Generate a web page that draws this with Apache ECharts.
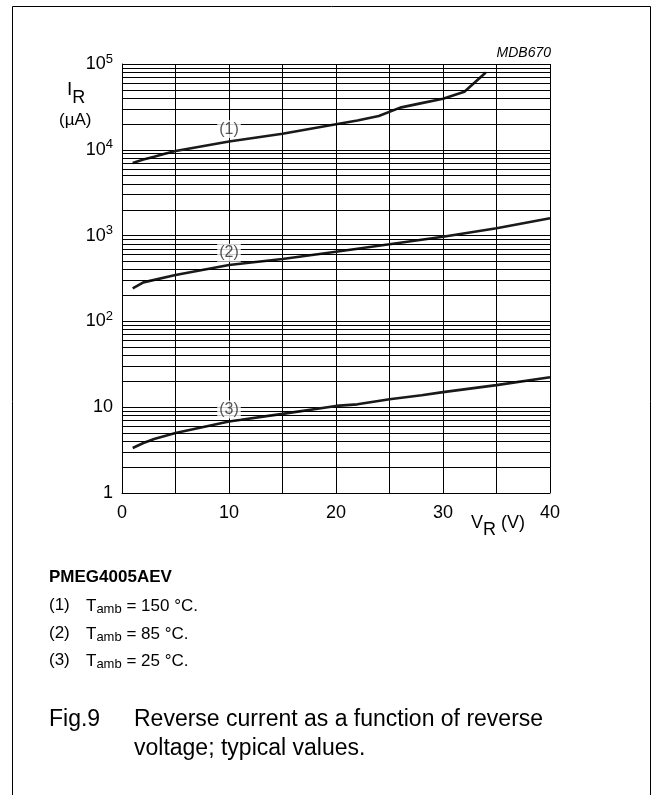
<!DOCTYPE html>
<html>
<head>
<meta charset="utf-8">
<script src="https://cdn.jsdelivr.net/npm/echarts@6/dist/echarts.min.js"></script>
<style>html,body{margin:0;padding:0;background:#fff;}#c{width:655px;height:795px;}</style>
</head>
<body>
<div id="c"></div>
<script>
// Curve (1): Tamb = 150 °C
var v150 = [1, 2, 3, 4, 5, 10, 15, 20, 22, 24, 26, 28, 30, 32, 34];
var i150 = [7000, 7700, 8300, 9000, 9700, 12500, 15400, 19900, 22000, 24800, 31000, 35000, 39300, 47500, 79500];
// Curve (2): Tamb = 85 °C
var v85 = [1, 2, 5, 10, 15, 20, 25, 30, 35, 40];
var i85 = [243, 285, 347, 454, 533, 649, 791, 970, 1216, 1592];
// Curve (3): Tamb = 25 °C
var v25 = [1, 2, 3, 5, 10, 15, 20, 22, 25, 28, 30, 35, 40];
var i25 = [3.35, 3.83, 4.27, 5.0, 6.8, 8.36, 10.35, 10.8, 12.4, 13.8, 15.0, 18.1, 22.3];
// Curve label anchors
var labelText = ['(1)', '(2)', '(3)'];
var labelV = [10, 10, 10];
var labelI = [17400, 631, 9.4];
// Axis
var xTicks = [0, 10, 20, 30, 40];
var yDecades = [1, 10, 100, 1000, 10000, 100000];
var minorMult = [2, 3, 4, 5, 6, 7, 8, 9];

function pairs(xs, ys) { return xs.map(function (x, k) { return [x, ys[k]]; }); }

var minorLines = [];
for (var d = 0; d < yDecades.length - 1; d++) {
  for (var m = 0; m < minorMult.length; m++) {
    minorLines.push({ yAxis: yDecades[d] * minorMult[m] });
  }
}

var FONT = '"Liberation Sans", Arial, sans-serif';
var chart = echarts.init(document.getElementById('c'), null, { renderer: 'canvas' });
var curveStyle = { color: '#1a1a1a', width: 2.6 };

chart.setOption({
  animation: false,
  backgroundColor: '#fff',
  grid: { left: 122, right: 105, top: 64, bottom: 302, containLabel: false },
  xAxis: {
    type: 'value', min: 0, max: 40, interval: 5,
    axisLine: { show: true, lineStyle: { color: '#000', width: 1 } },
    axisTick: { show: false },
    splitLine: { show: true, lineStyle: { color: '#000', width: 1 } },
    axisLabel: {
      margin: 11, color: '#000', fontFamily: FONT, fontSize: 18,
      formatter: function (v) { return xTicks.indexOf(v) >= 0 ? String(v) : ''; }
    }
  },
  yAxis: {
    type: 'log', logBase: 10, min: 1, max: 100000,
    axisLine: { show: true, lineStyle: { color: '#000', width: 1 } },
    axisTick: { show: false },
    splitLine: { show: true, lineStyle: { color: '#000', width: 1 } },
    axisLabel: {
      margin: 9, color: '#000', fontFamily: FONT, fontSize: 18,
      formatter: function (v) {
        var e = Math.round(Math.log10(v));
        if (e === 0) return '{b|1}';
        if (e === 1) return '{b|10}';
        return '{b|10}{s|' + e + '}';
      },
      rich: {
        b: { fontFamily: FONT, fontSize: 18, color: '#000', lineHeight: 22 },
        s: { fontFamily: FONT, fontSize: 13, color: '#000', lineHeight: 22, padding: [0, 0, 10, 0] }
      }
    }
  },
  series: [
    {
      type: 'line', data: [], silent: true, z: 1,
      markLine: {
        silent: true, symbol: ['none', 'none'], animation: false,
        label: { show: false },
        lineStyle: { color: '#000', width: 1, type: 'solid' },
        data: minorLines
      }
    },
    { name: '(1)', type: 'line', data: pairs(v150, i150), showSymbol: false, lineStyle: curveStyle, z: 3 },
    { name: '(2)', type: 'line', data: pairs(v85, i85), showSymbol: false, lineStyle: curveStyle, z: 3 },
    { name: '(3)', type: 'line', data: pairs(v25, i25), showSymbol: false, lineStyle: curveStyle, z: 3 },
    {
      type: 'scatter', symbolSize: 0, z: 5, silent: true,
      data: labelV.map(function (x, k) { return { value: [x, labelI[k]], name: labelText[k] }; }),
      label: {
        show: true, position: 'inside', formatter: '{b}',
        fontFamily: FONT, fontSize: 16, color: '#2a2a2a',
        textBorderWidth: 0, textBorderColor: 'transparent',
        backgroundColor: '#fff', padding: [1, 2, 1, 2]
      }
    }
  ],
  graphic: [
    { type: 'rect', shape: { x: 12.5, y: 6.5, width: 638, height: 800 }, style: { fill: null, stroke: '#000', lineWidth: 1 }, silent: true },
    { type: 'text', x: 551, y: 53, style: { text: 'MDB670', font: 'italic 14px ' + FONT, fill: '#000', align: 'right', verticalAlign: 'middle' } },
    { type: 'text', x: 67, y: 94, style: {
        text: '{i|I}{r|R}', align: 'left', verticalAlign: 'middle',
        rich: { i: { font: '19px ' + FONT, fill: '#000', lineHeight: 24, padding: [0, 0, 8, 0] },
                r: { font: '18px ' + FONT, fill: '#000', lineHeight: 24, padding: [8, 0, 0, 0] } } } },
    { type: 'text', x: 59, y: 120, style: { text: '(µA)', font: '17px ' + FONT, fill: '#000', verticalAlign: 'middle' } },
    { type: 'text', x: 471, y: 526, style: {
        text: '{v|V}{r|R}{v| (V)}', align: 'left', verticalAlign: 'middle',
        rich: { v: { font: '18px ' + FONT, fill: '#000', lineHeight: 24, padding: [0, 0, 6, 0] },
                r: { font: '18px ' + FONT, fill: '#000', lineHeight: 24, padding: [8, 0, 0, 0] } } } },
    { type: 'text', x: 49, y: 577, style: { text: 'PMEG4005AEV', font: 'bold 17px ' + FONT, fill: '#000', verticalAlign: 'middle' } },
    { type: 'text', x: 49, y: 605, style: { text: '(1)', font: '17px ' + FONT, fill: '#000', verticalAlign: 'middle' } },
    { type: 'text', x: 49, y: 633, style: { text: '(2)', font: '17px ' + FONT, fill: '#000', verticalAlign: 'middle' } },
    { type: 'text', x: 49, y: 660, style: { text: '(3)', font: '17px ' + FONT, fill: '#000', verticalAlign: 'middle' } },
    { type: 'text', x: 86, y: 606, style: { text: '{t|T}{s|amb}{t| = 150 °C.}', verticalAlign: 'middle',
        rich: { t: { font: '17px ' + FONT, fill: '#000', lineHeight: 22 }, s: { font: '13px ' + FONT, fill: '#000', lineHeight: 22, padding: [7, 0, 0, 0] } } } },
    { type: 'text', x: 86, y: 634, style: { text: '{t|T}{s|amb}{t| = 85 °C.}', verticalAlign: 'middle',
        rich: { t: { font: '17px ' + FONT, fill: '#000', lineHeight: 22 }, s: { font: '13px ' + FONT, fill: '#000', lineHeight: 22, padding: [7, 0, 0, 0] } } } },
    { type: 'text', x: 86, y: 661, style: { text: '{t|T}{s|amb}{t| = 25 °C.}', verticalAlign: 'middle',
        rich: { t: { font: '17px ' + FONT, fill: '#000', lineHeight: 22 }, s: { font: '13px ' + FONT, fill: '#000', lineHeight: 22, padding: [7, 0, 0, 0] } } } },
    { type: 'text', x: 49, y: 720, style: { text: 'Fig.9', font: '23px ' + FONT, fill: '#000', verticalAlign: 'middle' } },
    { type: 'text', x: 134, y: 720, style: { text: 'Reverse current as a function of reverse', font: '23px ' + FONT, fill: '#000', verticalAlign: 'middle' } },
    { type: 'text', x: 134, y: 749, style: { text: 'voltage; typical values.', font: '23px ' + FONT, fill: '#000', verticalAlign: 'middle' } }
  ]
});
</script>
</body>
</html>
